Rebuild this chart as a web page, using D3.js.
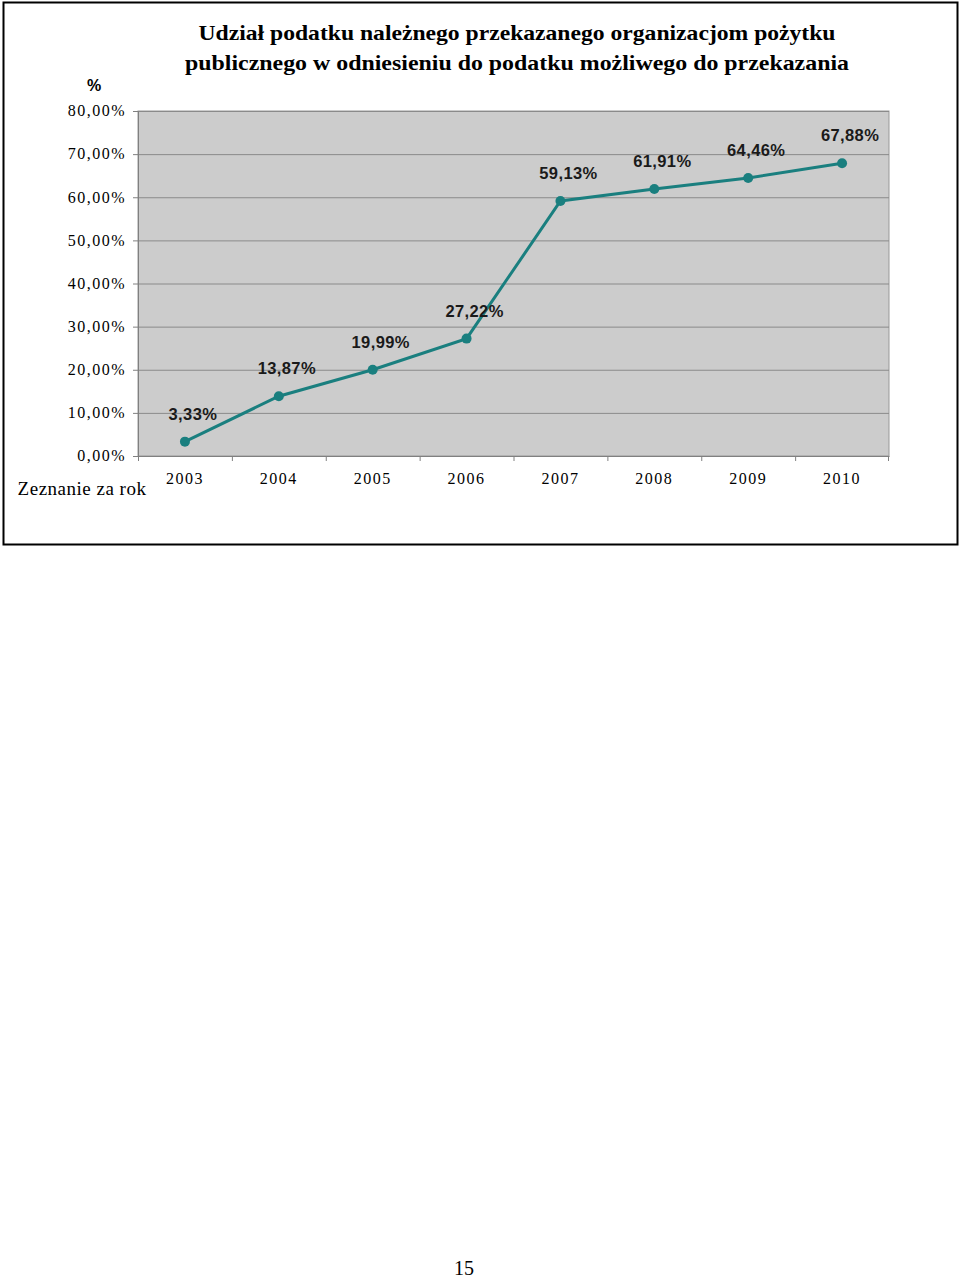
<!DOCTYPE html>
<html><head><meta charset="utf-8">
<script src="https://cdn.jsdelivr.net/npm/d3@7"></script>
<style>body{margin:0;background:#fff}svg{display:block}</style>
</head><body>
<script>
const years = ["2003","2004","2005","2006","2007","2008","2009","2010"];
const values = [3.33, 13.87, 19.99, 27.22, 59.13, 61.91, 64.46, 67.88];
const yTicks = [0,10,20,30,40,50,60,70,80];
const titleLines = ["Udział podatku należnego przekazanego organizacjom pożytku",
                    "publicznego w odniesieniu do podatku możliwego do przekazania"];

const W = 960, H = 1281;
const svg = d3.select("body").append("svg").attr("width", W).attr("height", H);

// outer frame
svg.append("rect").attr("x",3.5).attr("y",2.5).attr("width",954).attr("height",542)
  .attr("fill","none").attr("stroke","#000").attr("stroke-width",2);

const m = {left:138, right:889, top:111, bottom:456};
const x = d3.scaleBand().domain(years).range([m.left, m.right]).padding(0);
const y = d3.scaleLinear().domain([0,80]).range([m.bottom, m.top]);

// plot area
svg.append("rect").attr("x",m.left).attr("y",m.top).attr("width",m.right-m.left).attr("height",m.bottom-m.top)
  .attr("fill","#cccccc").attr("stroke","#999").attr("stroke-width",1);

// grid
svg.append("g").selectAll("line").data(yTicks.filter(d=>d>0)).join("line")
  .attr("x1",m.left).attr("x2",m.right).attr("y1",d=>y(d)+0.5).attr("y2",d=>y(d)+0.5)
  .attr("stroke","#8a8a8a").attr("stroke-width",1);

// y axis
const yAxis = d3.axisLeft(y).tickValues(yTicks).tickSize(5).tickPadding(7)
  .tickFormat(d => d.toFixed(2).replace(".", ",") + "%");
const gy = svg.append("g").attr("transform",`translate(${m.left},0)`).call(yAxis);
gy.select(".domain").attr("stroke","#808080");
gy.selectAll(".tick line").attr("stroke","#808080");
gy.selectAll(".tick text").attr("font-family","Liberation Serif").attr("font-size",16)
  .attr("letter-spacing","1.5px").attr("fill","#000").attr("dy","0.3em");

// x axis
const xAxis = d3.axisBottom(x).tickSize(0).tickPadding(17);
const gx = svg.append("g").attr("transform",`translate(0,${m.bottom})`).call(xAxis);
gx.select(".domain").attr("stroke","#808080");
gx.selectAll(".tick text").attr("font-family","Liberation Serif").attr("font-size",16)
  .attr("letter-spacing","1.5px").attr("fill","#000");
// tick marks at band boundaries
svg.append("g").selectAll("line").data(years).join("line")
  .attr("x1",d=>x(d)+0.5).attr("x2",d=>x(d)+0.5).attr("y1",m.bottom).attr("y2",m.bottom+5)
  .attr("stroke","#808080");
svg.append("line").attr("x1",m.right-0.5).attr("x2",m.right-0.5).attr("y1",m.bottom).attr("y2",m.bottom+5).attr("stroke","#808080");

// line
const pts = years.map((yr,i)=>({yr, v:values[i]}));
const cx = d => x(d.yr) + x.bandwidth()/2;
svg.append("path").datum(pts)
  .attr("d", d3.line().x(cx).y(d=>y(d.v)))
  .attr("fill","none").attr("stroke","#1a7f7f").attr("stroke-width",3);
svg.append("g").selectAll("circle").data(pts).join("circle")
  .attr("cx",cx).attr("cy",d=>y(d.v)).attr("r",5).attr("fill","#1a7f7f");

// data labels
svg.append("g").selectAll("text").data(pts).join("text")
  .attr("x",d=>cx(d)+8).attr("y",d=>y(d.v)-22)
  .attr("text-anchor","middle").attr("font-family","Liberation Sans").attr("font-weight","bold")
  .attr("font-size",16.5).attr("letter-spacing","0.4px").attr("fill","#1a1a1a")
  .text(d=>d.v.toFixed(2).replace(".",",")+"%");

// title
svg.append("g").selectAll("text").data(titleLines).join("text")
  .attr("x",517).attr("y",(d,i)=>40+i*30).attr("text-anchor","middle")
  .attr("font-family","Liberation Serif").attr("font-weight","bold").attr("font-size",21)
  .attr("textLength",(d,i)=>i===0?637:664).attr("lengthAdjust","spacingAndGlyphs")
  .text(d=>d);

// axis titles
svg.append("text").attr("x",94).attr("y",91).attr("text-anchor","middle")
  .attr("font-family","Liberation Sans").attr("font-weight","bold").attr("font-size",16).text("%");
svg.append("text").attr("x",82).attr("y",495).attr("text-anchor","middle")
  .attr("font-family","Liberation Serif").attr("font-size",19).attr("letter-spacing","0.5px").text("Zeznanie za rok");

// page number
svg.append("text").attr("x",464).attr("y",1275).attr("text-anchor","middle")
  .attr("font-family","Liberation Serif").attr("font-size",20).text("15");
</script>
</body></html>
